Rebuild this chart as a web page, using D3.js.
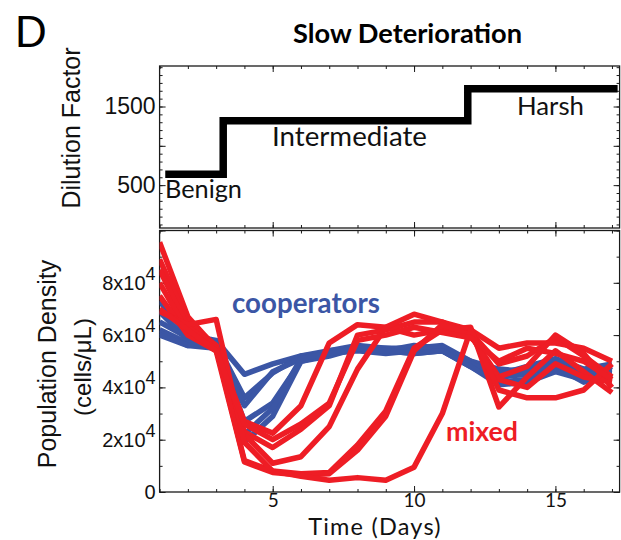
<!DOCTYPE html>
<html>
<head>
<meta charset="utf-8">
<script src="https://cdn.jsdelivr.net/npm/d3@7"></script>
<style>
  body { margin: 0; background: #fff; }
  svg { display: block; }
</style>
</head>
<body>
<svg id="chart"></svg>
<script>
// Data (population density in units of 10^4 cells/uL)

const days = [1, 2, 3, 4, 5, 6, 7, 8, 9, 10, 11, 12, 13, 14, 15, 16, 17];

const coop1 = [7.3, 6.0, 5.8, 4.5, 4.9, 5.2, 5.4, 5.6, 5.5, 5.5, 5.6, 5.0, 4.6, 4.7, 5.0, 4.6, 4.7];
const coop2 = [6.9, 5.8, 5.7, 3.6, 4.55, 5.2, 5.3, 5.5, 5.4, 5.6, 5.5, 4.9, 4.4, 4.5, 4.9, 4.5, 4.6];
const coop3 = [6.5, 5.9, 5.6, 3.3, 4.6, 5.1, 5.4, 5.5, 5.5, 5.4, 5.4, 4.8, 4.2, 4.3, 4.7, 4.4, 4.8];
const coop4 = [6.2, 5.7, 5.6, 2.7, 3.4, 5.0, 5.3, 5.4, 5.3, 5.4, 5.5, 5.0, 4.7, 4.6, 4.8, 4.2, 4.5];
const coop5 = [6.1, 5.6, 5.5, 1.9, 2.9, 5.0, 5.2, 5.5, 5.4, 5.3, 5.4, 4.9, 4.5, 4.8, 5.1, 4.7, 4.9];
const coop6 = [6.0, 5.6, 5.7, 2.2, 3.2, 5.1, 5.3, 5.5, 5.4, 5.3, 5.4, 4.8, 4.1, 4.2, 4.6, 4.3, 4.4];

const mixed1 = [9.55, 6.7, 5.5, 2.7, 2.25, 3.3, 5.7, 6.4, 6.3, 6.0, 6.2, 6.1, 4.9, 5.2, 5.9, 5.2, 4.4];
const mixed2 = [8.9, 6.5, 5.6, 2.3, 1.7, 2.4, 3.3, 6.0, 6.2, 6.5, 6.5, 6.2, 5.5, 5.7, 5.7, 5.5, 5.0];
const mixed3 = [8.5, 6.3, 5.6, 2.2, 1.1, 1.35, 2.5, 4.7, 6.3, 6.8, 6.5, 6.0, 4.4, 4.8, 6.0, 5.3, 4.0];
const mixed4 = [8.0, 6.1, 5.5, 1.2, 0.8, 0.7, 0.75, 1.8, 3.1, 5.5, 6.2, 6.3, 3.25, 4.4, 5.4, 4.6, 3.8];
const mixed5 = [7.5, 6.0, 5.4, 1.15, 0.75, 0.65, 0.7, 1.6, 2.9, 5.4, 6.4, 6.0, 4.3, 4.0, 4.9, 4.4, 4.2];
const mixed6 = [6.9, 6.4, 6.6, 1.9, 0.8, 0.6, 0.45, 0.55, 0.45, 0.95, 3.0, 6.2, 3.9, 3.6, 3.6, 3.9, 4.9];
const mixed7 = [7.0, 6.2, 5.4, 2.6, 2.0, 2.6, 3.4, 5.8, 6.0, 6.3, 6.1, 5.9, 5.0, 5.5, 5.3, 5.0, 4.3];

// dilution schedule (step changes)
const dilutionDays = [1.2, 3.25, 11.9, 17.2];
const dilutionLevels = [640, 1320, 1725, 1725];
const regimeNames = ["Benign", "Intermediate", "Harsh"];

const dilutionTicks = [500, 1500];
const densityTicks = [0, 2, 4, 6, 8];
const dayTicks = [5, 10, 15];

const cooperatorRuns = [coop1, coop2, coop3, coop4, coop5, coop6];
const mixedRuns = [mixed1, mixed2, mixed3, mixed4, mixed5, mixed6, mixed7];

// layout
const svgWidth = 621, svgHeight = 540;
const left = 159.6, right = 619.6;
const topPanel = {top: 66, bottom: 228};
const botPanel = {top: 230.5, bottom: 492};

const blue = "#3b56a5", red = "#ee1d25", ink = "#1a1a1a";
const calibri = "Lato, 'Open Sans', sans-serif";
const arial = "'Liberation Sans', Arial, sans-serif";

const svg = d3.select("#chart")
    .attr("width", svgWidth)
    .attr("height", svgHeight)
    .attr("viewBox", `0 0 ${svgWidth} ${svgHeight}`);

const xScale = d3.scaleLinear().domain([1, 17.27]).range([left, right]);
const yTop = d3.scaleLinear().domain([-45, 2015]).range([topPanel.bottom, topPanel.top]);
const yBot = d3.scaleLinear().domain([0, 10]).range([botPanel.bottom, botPanel.top]);

// scale font size so the text gets a given width
function fitWidth(sel, w) {
    const fs = parseFloat(sel.attr("font-size"));
    const len = sel.node().getComputedTextLength();
    sel.attr("font-size", (fs * w / len).toFixed(2));
}

function tidy(g) {
    g.select(".domain").remove();
    g.selectAll("line").attr("stroke", ink).attr("stroke-width", 1);
}

// ---- frames and ticks for one panel
function drawFrame(yScale, panel, minorY, majorY, labelY, labelFmt) {
    const allDays = d3.range(1, 18);

    // bottom / top day ticks (minor then major)
    [[allDays, 3], [dayTicks, 6]].forEach(([vals, len]) => {
        svg.append("g")
            .attr("transform", `translate(0,${panel.bottom})`)
            .call(d3.axisBottom(xScale).tickValues(vals).tickSize(-len).tickFormat(""))
            .call(tidy);
        svg.append("g")
            .attr("transform", `translate(0,${panel.top})`)
            .call(d3.axisTop(xScale).tickValues(vals).tickSize(-len).tickFormat(""))
            .call(tidy);
    });

    [[minorY, 3], [majorY, 6]].forEach(([vals, len]) => {
        svg.append("g")
            .attr("transform", `translate(${left},0)`)
            .call(d3.axisLeft(yScale).tickValues(vals).tickSize(-len).tickFormat(""))
            .call(tidy);
        svg.append("g")
            .attr("transform", `translate(${right},0)`)
            .call(d3.axisRight(yScale).tickValues(vals).tickSize(-len).tickFormat(""))
            .call(tidy);
    });

    // tick labels on the left
    const lab = svg.append("g")
        .attr("transform", `translate(${left},0)`)
        .call(d3.axisLeft(yScale).tickValues(labelY).tickSize(0).tickPadding(4).tickFormat(labelFmt))
        .call(tidy);
    lab.selectAll("text")
        .attr("font-family", arial)
        .attr("fill", "#111");

    svg.append("rect")
        .attr("x", left)
        .attr("y", panel.top)
        .attr("width", right - left)
        .attr("height", panel.bottom - panel.top)
        .attr("fill", "none")
        .attr("stroke", ink)
        .attr("stroke-width", 1.3);

    return lab;
}

// ---------------- top panel: dilution factor
const topLab = drawFrame(yTop, topPanel, d3.range(0, 2001, 100), [500, 1000, 1500], dilutionTicks, d => d);
topLab.selectAll("text").attr("font-size", 23);

const stepLine = d3.line()
    .x(d => xScale(d[0]))
    .y(d => yTop(d[1]))
    .curve(d3.curveStepAfter);

svg.append("path")
    .datum(dilutionDays.map((d, i) => [d, dilutionLevels[i]]))
    .attr("d", stepLine)
    .attr("fill", "none")
    .attr("stroke", "#000")
    .attr("stroke-width", 7.5)
    .attr("stroke-linejoin", "miter");

// regime labels
const regimePos = [
    {x: 165, y: 198, w: 77},
    {x: 272, y: 146, w: 155},
    {x: 517, y: 115, w: 67}
];
regimeNames.forEach((name, i) => {
    const t = svg.append("text")
        .attr("x", regimePos[i].x)
        .attr("y", regimePos[i].y)
        .attr("font-family", calibri)
        .attr("font-size", 22)
        .attr("fill", "#111")
        .text(name);
    fitWidth(t, regimePos[i].w);
});

// ---------------- bottom panel: population density
const botLab = drawFrame(yBot, botPanel, d3.range(0, 11, 1), [0, 2, 4, 6, 8, 10], densityTicks, d => d);
botLab.selectAll("text")
    .attr("font-size", 20)
    .each(function(d) {
        if (d === 0) return;
        const t = d3.select(this).text(null);
        t.append("tspan").text(d + "x10");
        t.append("tspan").attr("dy", "-0.55em").attr("font-size", 18).text("4");
    });

// x tick labels
const xLab = svg.append("g")
    .attr("transform", `translate(0,${botPanel.bottom})`)
    .call(d3.axisBottom(xScale).tickValues(dayTicks).tickSize(0).tickPadding(1))
    .call(tidy);
xLab.selectAll("text")
    .attr("font-family", calibri)
    .attr("font-size", 19)
    .attr("fill", "#111");

svg.append("clipPath")
    .attr("id", "plotClip")
    .append("rect")
    .attr("x", left)
    .attr("y", botPanel.top)
    .attr("width", right - left)
    .attr("height", botPanel.bottom - botPanel.top);

const valueline = d3.line()
    .x((d, i) => xScale(days[i]))
    .y(d => yBot(d))
    .curve(d3.curveLinear);

const lines = svg.append("g").attr("clip-path", "url(#plotClip)");

lines.selectAll(".coop")
    .data(cooperatorRuns)
    .enter()
    .append("path")
    .attr("class", "coop")
    .attr("d", valueline)
    .attr("fill", "none")
    .attr("stroke", blue)
    .attr("stroke-width", 5.5)
    .attr("stroke-linejoin", "round");

lines.selectAll(".mixed")
    .data(mixedRuns)
    .enter()
    .append("path")
    .attr("class", "mixed")
    .attr("d", valueline)
    .attr("fill", "none")
    .attr("stroke", red)
    .attr("stroke-width", 5.5)
    .attr("stroke-linejoin", "round");

// series labels
const coopLabel = svg.append("text")
    .attr("x", 232).attr("y", 313)
    .attr("font-family", calibri).attr("font-weight", "bold")
    .attr("font-size", 24).attr("fill", blue)
    .text("cooperators");
fitWidth(coopLabel, 148);

const mixedLabel = svg.append("text")
    .attr("x", 446).attr("y", 441)
    .attr("font-family", calibri).attr("font-weight", "bold")
    .attr("font-size", 24).attr("fill", red)
    .text("mixed");
fitWidth(mixedLabel, 72);

// ---------------- titles
svg.append("text")
    .attr("x", 15).attr("y", 47)
    .attr("font-family", arial)
    .attr("font-size", 44)
    .attr("fill", "#000")
    .text("D");

const title = svg.append("text")
    .attr("x", 407.5).attr("y", 43)
    .attr("text-anchor", "middle")
    .attr("font-family", calibri).attr("font-weight", "bold")
    .attr("font-size", 22).attr("fill", "#000")
    .text("Slow Deterioration");
fitWidth(title, 229);

svg.append("text")
    .attr("x", 375).attr("y", 535)
    .attr("text-anchor", "middle")
    .attr("font-family", calibri)
    .attr("font-size", 23.5).attr("fill", "#111")
    .attr("letter-spacing", 1.2)
    .text("Time (Days)");

svg.append("text")
    .attr("transform", "translate(80,128) rotate(-90)")
    .attr("text-anchor", "middle")
    .attr("font-family", arial)
    .attr("font-size", 25).attr("fill", "#111")
    .text("Dilution Factor");

svg.append("text")
    .attr("transform", "translate(56,364) rotate(-90)")
    .attr("text-anchor", "middle")
    .attr("font-family", arial)
    .attr("font-size", 25).attr("fill", "#111")
    .text("Population Density");

svg.append("text")
    .attr("transform", "translate(91,367) rotate(-90)")
    .attr("text-anchor", "middle")
    .attr("font-family", arial)
    .attr("font-size", 24).attr("fill", "#111")
    .text("(cells/μL)");
</script>
</body>
</html>
